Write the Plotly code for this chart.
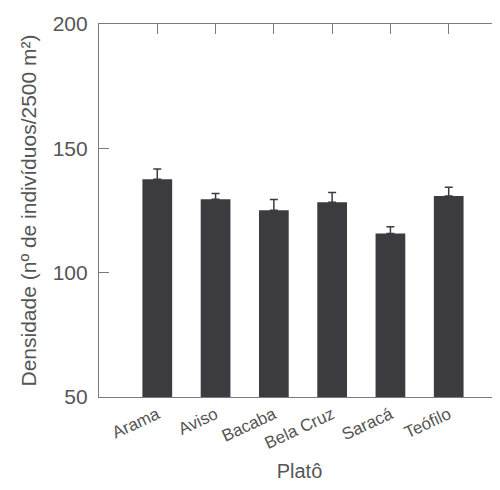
import plotly.graph_objects as go

categories = ["Arama", "Aviso", "Bacaba", "Bela Cruz", "Saracá", "Teófilo"]
densidade = [137.6, 129.5, 125.1, 128.3, 115.8, 130.8]
erro = [4.1, 2.3, 4.3, 3.9, 2.7, 3.5]
y_ticks = [50, 100, 150, 200]

FONT = "Liberation Sans, Arial, sans-serif"
TXT = "#555555"
AX = "#7a7a7a"

fig = go.Figure()
fig.add_trace(go.Bar(
    x=categories, y=densidade,
    marker=dict(color="#3b3b40", line=dict(width=0)),
    error_y=dict(type="data", symmetric=False, array=erro,
                 arrayminus=[0] * len(erro), color="#3b3b40",
                 thickness=1.5, width=4),
    showlegend=False,
))
# invisible trace for top/right mirrored ticks
fig.add_trace(go.Scatter(x=categories, y=densidade, xaxis="x2", yaxis="y2",
                         mode="markers", marker=dict(opacity=0),
                         showlegend=False, hoverinfo="skip"))

fig.update_layout(
    width=492, height=474,
    margin=dict(l=91, r=0, t=16, b=85, autoexpand=False),
    paper_bgcolor="white", plot_bgcolor="white",
    bargap=0.49,
    font=dict(family=FONT, color=TXT),
    xaxis=dict(
        type="category", range=[-1, 5.88],
        showline=True, linecolor=AX, linewidth=1.2,
        ticks="", showgrid=False, zeroline=False,
        tickangle=-25, tickfont=dict(size=17, color=TXT),
        title=dict(text="Platô", font=dict(size=20, color=TXT), standoff=12),
    ),
    xaxis2=dict(
        type="category", overlaying="x", matches="x", side="top",
        showline=True, linecolor=AX, linewidth=1.2,
        ticks="inside", ticklen=10, tickcolor=AX, tickwidth=1.2,
        showticklabels=False, showgrid=False, zeroline=False,
    ),
    yaxis=dict(
        range=[50, 200], tickvals=y_ticks,
        showline=True, linecolor=AX, linewidth=1.2,
        ticks="inside", ticklen=10, tickcolor=AX, tickwidth=1.2,
        showgrid=False, zeroline=False,
        tickfont=dict(size=21, color=TXT), ticklabelstandoff=6,
        title=dict(text="Densidade (nº de indivíduos/2500 m²)",
                   font=dict(size=21, color=TXT), standoff=10),
    ),
    yaxis2=dict(
        range=[50, 200], tickvals=y_ticks, overlaying="y", side="right",
        matches="y", showline=False,
        ticks="inside", ticklen=5, tickcolor=AX, tickwidth=1.2,
        showticklabels=False, showgrid=False, zeroline=False,
    ),
)

fig.write_html("out.html")
